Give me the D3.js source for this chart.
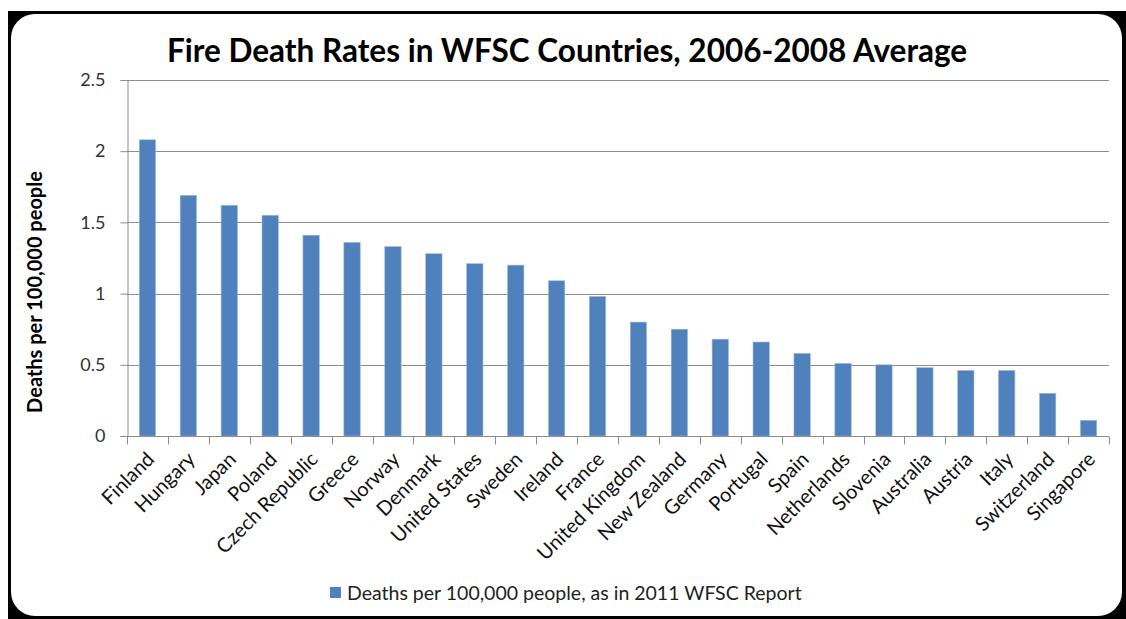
<!DOCTYPE html>
<html>
<head>
<meta charset="utf-8">
<script src="https://cdn.jsdelivr.net/npm/d3@7"></script>
<style>
  body { margin: 0; background: #fff; }
  svg { display: block; }
</style>
</head>
<body>
<svg id="SVG_CONTAINER" width="1126" height="619"></svg>
<script>
// values
const countries = ["Finland", "Hungary", "Japan", "Poland", "Czech Republic", "Greece", "Norway",
  "Denmark", "United States", "Sweden", "Ireland", "France", "United Kingdom", "New Zealand",
  "Germany", "Portugal", "Spain", "Netherlands", "Slovenia", "Australia", "Austria", "Italy",
  "Switzerland", "Singapore"];
const deathRates = [2.08, 1.69, 1.62, 1.55, 1.41, 1.36, 1.33, 1.28, 1.21, 1.20, 1.09, 0.98,
  0.80, 0.75, 0.68, 0.66, 0.58, 0.51, 0.50, 0.48, 0.46, 0.46, 0.30, 0.11];
const yTicks = [0, 0.5, 1, 1.5, 2, 2.5];

const seriesName = "Deaths per 100,000 people, as in 2011 WFSC Report";
const titleText = "Fire Death Rates in WFSC Countries, 2006-2008 Average";

const MARGIN = { LEFT: 127, RIGHT: 1109, TOP: 80, BOTTOM: 436 };
const FONT = "Lato, 'Open Sans', sans-serif";
const BAR = "#4F81BD";
const GRID = "#8c8c8c";

let svg = d3.select("#SVG_CONTAINER");

// frame: black box with white rounded panel
svg.append("rect").attr("x", 8).attr("y", 11).attr("width", 1118).attr("height", 608).attr("fill", "#000");
svg.append("rect").attr("x", 11).attr("y", 14).attr("width", 1111).attr("height", 602)
  .attr("rx", 24).attr("ry", 24).attr("fill", "#fff");

let data = countries.map((c, i) => ({ country: c, value: deathRates[i] }));

let xScale = d3.scaleBand()
  .domain(countries)
  .range([MARGIN.LEFT, MARGIN.RIGHT])
  .paddingInner(0.6)
  .paddingOuter(0.3);

let yScale = d3.scaleLinear()
  .domain([0, 2.5])
  .range([MARGIN.BOTTOM, MARGIN.TOP]);

// gridlines
svg.append("g").selectAll("line")
  .data(yTicks.filter(t => t > 0))
  .enter().append("line")
  .attr("x1", MARGIN.LEFT).attr("x2", MARGIN.RIGHT)
  .attr("y1", d => Math.round(yScale(d)) + 0.5).attr("y2", d => Math.round(yScale(d)) + 0.5)
  .attr("stroke", GRID).attr("stroke-width", 1);

// bars
svg.append("g").selectAll("rect")
  .data(data)
  .enter().append("rect")
  .attr("x", d => xScale(d.country))
  .attr("width", xScale.bandwidth())
  .attr("y", d => yScale(d.value))
  .attr("height", d => yScale(0) - yScale(d.value))
  .attr("fill", BAR)
  .attr("stroke", "#9fb9dc").attr("stroke-width", 0.6);

// y axis
let yAxis = d3.axisLeft(yScale).tickValues(yTicks).tickSize(7).tickPadding(15).tickFormat(d3.format(""));
let gy = svg.append("g")
  .attr("transform", "translate(" + (MARGIN.LEFT + 0.5) + ",0)")
  .call(yAxis);
gy.select(".domain").attr("stroke", GRID);
gy.selectAll(".tick line").attr("stroke", GRID);
gy.selectAll(".tick text").attr("font-family", FONT).attr("font-size", "18px").attr("fill", "#333");

// x axis: ticks between categories
let step = (MARGIN.RIGHT - MARGIN.LEFT) / countries.length;
let gx = svg.append("g").attr("transform", "translate(0," + (MARGIN.BOTTOM + 0.5) + ")");
gx.append("line").attr("x1", MARGIN.LEFT).attr("x2", MARGIN.RIGHT).attr("stroke", GRID);
gx.selectAll(".sep")
  .data(d3.range(countries.length + 1))
  .enter().append("line")
  .attr("class", "sep")
  .attr("x1", i => Math.round(MARGIN.LEFT + i * step) + 0.5)
  .attr("x2", i => Math.round(MARGIN.LEFT + i * step) + 0.5)
  .attr("y1", 0).attr("y2", 8)
  .attr("stroke", GRID);

gx.selectAll(".lbl")
  .data(countries)
  .enter().append("text")
  .attr("class", "lbl")
  .attr("transform", d => "translate(" + (xScale(d) + xScale.bandwidth() / 2 + 8) + ",24) rotate(-45)")
  .attr("text-anchor", "end")
  .attr("font-family", FONT).attr("font-size", "20px").attr("fill", "#111")
  .text(d => d);

// title
svg.append("text")
  .attr("x", 567).attr("y", 62)
  .attr("text-anchor", "middle")
  .attr("font-family", FONT).attr("font-weight", "bold").attr("font-size", "31.5px").attr("fill", "#000")
  .text(titleText);

// y axis label
svg.append("text")
  .attr("transform", "translate(42,292) rotate(-90)")
  .attr("text-anchor", "middle")
  .attr("font-family", FONT).attr("font-weight", "bold").attr("font-size", "20px").attr("fill", "#000")
  .text("Deaths per 100,000 people");

// legend
svg.append("rect").attr("x", 330).attr("y", 587).attr("width", 11).attr("height", 11).attr("fill", BAR);
svg.append("text")
  .attr("x", 347).attr("y", 600)
  .attr("font-family", FONT).attr("font-size", "19.5px").attr("fill", "#222")
  .text(seriesName);
</script>
</body>
</html>
